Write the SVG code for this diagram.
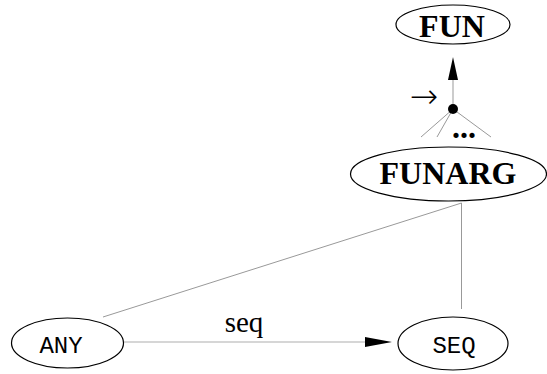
<svg xmlns="http://www.w3.org/2000/svg" width="547" height="374" viewBox="0 0 547 374">
  <style>
    .node { fill: #fff; stroke: #000; stroke-width: 1.2; }
    .bold { font-family: 'Liberation Serif', 'Times New Roman', Times, serif; font-weight: 700; font-size: 32px; text-anchor: middle; }
    .mono { font-family: 'Liberation Mono', 'Courier New', Courier, monospace; font-size: 24px; text-anchor: middle; }
    .lbl { font-family: 'Liberation Serif', 'Times New Roman', Times, serif; font-size: 29px; text-anchor: middle; }
    .arrowsym { font-family: 'DejaVu Sans', sans-serif; font-weight: 200; font-size: 34px; text-anchor: middle; }
    .thin { stroke: #999; stroke-width: 1; fill: none; }
    .light { stroke: #c8c8c8; stroke-width: 1.5; fill: none; }
  </style>
  <rect width="547" height="374" fill="#fff"/>

  <g id="connectors">
    <!-- FUNARG to FUN through the junction dot -->
    <line class="thin" x1="453" y1="109" x2="453" y2="78"/>
    <polygon points="453,57 448,80 458,80" fill="#000"/>
    <line class="thin" x1="453" y1="109" x2="421" y2="137"/>
    <line class="thin" x1="453" y1="109" x2="437" y2="137"/>
    <line class="thin" x1="453" y1="109" x2="491" y2="137"/>
    <circle cx="453" cy="109" r="5" fill="#000"/>
    <text class="arrowsym" x="424" y="108">→</text>
    <text class="bold" x="464" y="138">...</text>
    <!-- FUNARG to ANY and SEQ -->
    <line class="thin" x1="461.5" y1="203" x2="103" y2="317"/>
    <line class="thin" x1="461.5" y1="203" x2="461.5" y2="309"/>
    <!-- ANY to SEQ -->
    <line class="light" x1="124" y1="342" x2="366" y2="342"/>
    <polygon points="392,342 365,337 365,347" fill="#000"/>
    <text class="lbl" x="244" y="332">seq</text>
  </g>

  <g id="FUN">
    <ellipse class="node" cx="453" cy="24.5" rx="57" ry="19.5"/>
    <text class="bold" x="452" y="37">FUN</text>
  </g>

  <g id="FUNARG">
    <ellipse class="node" cx="448.5" cy="174" rx="98" ry="27"/>
    <text class="bold" x="448" y="184">FUNARG</text>
  </g>

  <g id="ANY">
    <ellipse class="node" cx="67.5" cy="343" rx="56" ry="25"/>
    <text class="mono" x="61" y="353">ANY</text>
  </g>

  <g id="SEQ">
    <ellipse class="node" cx="453" cy="343.5" rx="55" ry="26.5"/>
    <text class="mono" x="454" y="353">SEQ</text>
  </g>
</svg>
